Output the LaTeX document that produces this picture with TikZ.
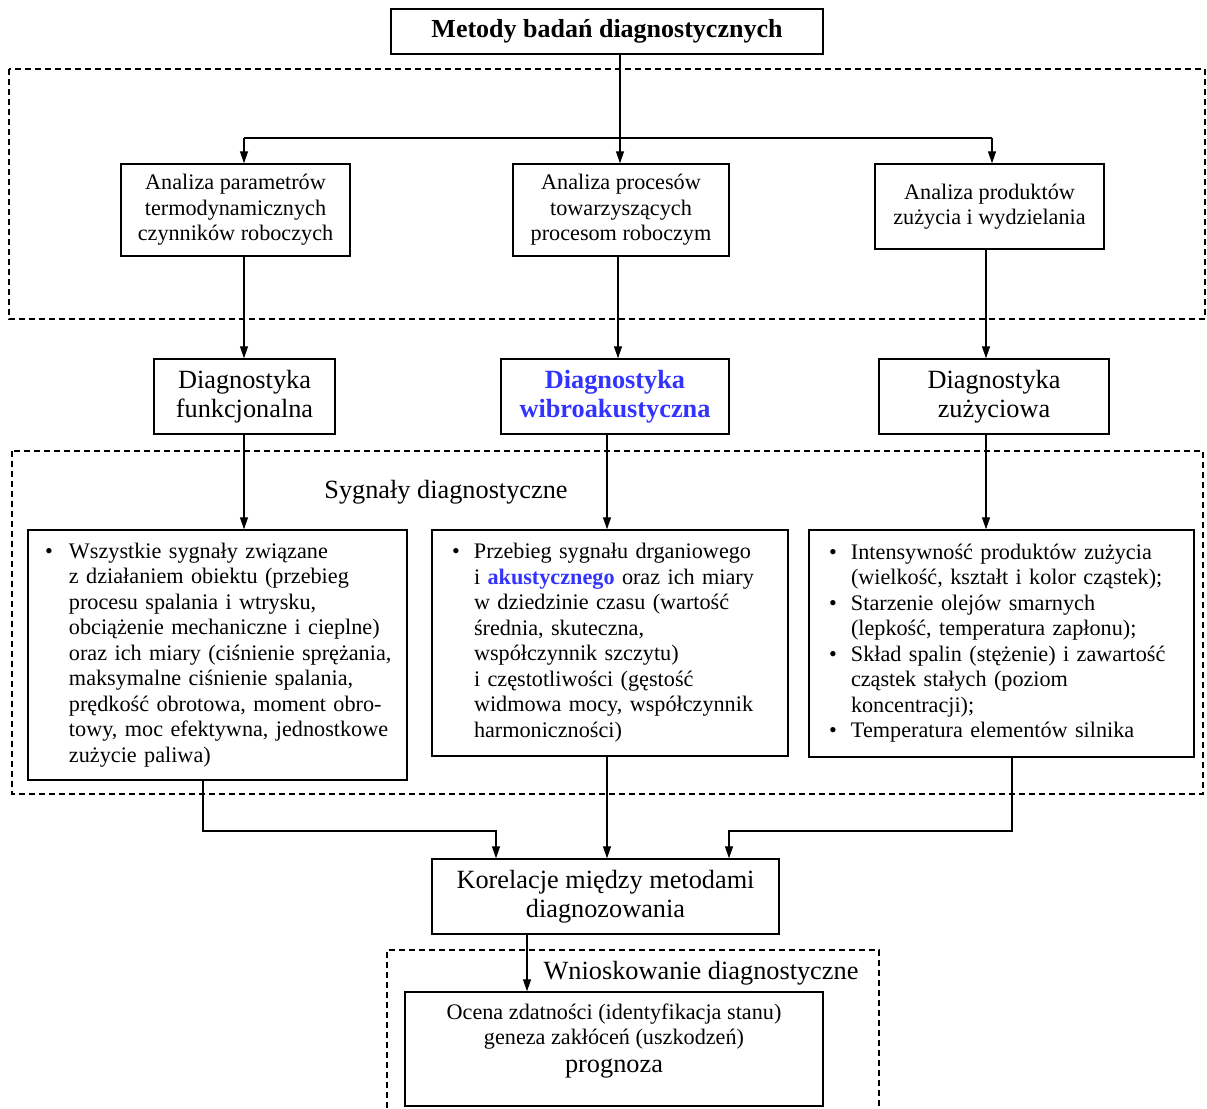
\documentclass[tikz,border=0pt]{standalone}
\usepackage{fontspec}
\setmainfont{Liberation Serif}
\usetikzlibrary{arrows.meta}
\definecolor{diagblue}{RGB}{51,51,255}
\newcommand{\fsz}[2]{\fontsize{#1}{#2}\selectfont}
\newcommand{\bl}{\textbullet}
\begin{document}
\begin{tikzpicture}[x=1pt,y=-1pt,
  box/.style={draw, line width=1.4pt, inner sep=0pt, align=center},
  arr/.style={line width=1.2pt, -{Triangle[length=12pt,width=8pt]}},
  ln/.style={line width=1.2pt},
  dbox/.style={line width=1.2pt, dash pattern=on 6pt off 4pt},
  small/.style={font=\fsz{22.2}{25.5}},
  big/.style={font=\fsz{26.3}{29.5}},
  listbox/.style={box, align=left, font=\fsz{22.2}{25.5}}
]
\useasboundingbox (0,0) rectangle (1207,1108);

% dashed frames
\draw[dbox] (9,69) rectangle (1205,319);
\draw[dbox] (12,451) rectangle (1203,794);
\draw[dbox] (387,1108) -- (387,950) -- (879,950) -- (879,1108);

% column coordinates
\coordinate (c1) at (244,0);
\coordinate (c2) at (620,0);
\coordinate (c2a) at (618,0);
\coordinate (c2b) at (607,0);
\coordinate (c3) at (992,0);
\coordinate (c3b) at (986,0);
\coordinate (jy) at (0,138);
\coordinate (my) at (0,831);
\coordinate (k1) at (496,0);
\coordinate (k3) at (729,0);
\coordinate (l1) at (203,0);
\coordinate (l3) at (1012,0);
\coordinate (ox) at (527,0);

% top
\node[box, minimum width=432pt, minimum height=45pt, font=\fsz{26}{30}\bfseries] (top) at (607,31.5) {Metody badań diagnostycznych};

% analysis boxes
\node[box, small, minimum width=229pt, minimum height=92pt] (A1) at (235.5,210) {Analiza parametrów\\termodynamicznych\\czynników roboczych};
\node[box, small, minimum width=216pt, minimum height=92pt] (A2) at (621,210) {Analiza procesów\\towarzyszących\\procesom roboczym};
\node[box, small, minimum width=229pt, minimum height=85pt] (A3) at (989.5,206.5) {Analiza produktów\\zużycia i wydzielania};

% diagnostics boxes
\node[box, big, minimum width=181pt, minimum height=75pt] (D1) at (244.5,396.5) {Diagnostyka\\funkcjonalna};
\node[box, minimum width=228pt, minimum height=75pt, text=diagblue, font=\fsz{26.3}{29.5}\bfseries] (D2) at (615,396.5) {Diagnostyka\\wibroakustyczna};
\node[box, big, minimum width=230pt, minimum height=75pt] (D3) at (994,396.5) {Diagnostyka\\zużyciowa};

\node[font=\fsz{26.3}{29.5}, inner sep=0pt] (syg) at (446,492) {Sygnały diagnostyczne};

% list boxes
\node[listbox, minimum width=379pt, minimum height=250pt, text width=345pt] (L1) at (217.5,655) {%
\begin{tabular}{@{}p{24pt}@{}l@{}}
\bl & Wszystkie sygnały związane\\
 & z działaniem obiektu (przebieg\\
 & procesu spalania i wtrysku,\\
 & obciążenie mechaniczne i cieplne)\\
 & oraz ich miary (ciśnienie sprężania,\\
 & maksymalne ciśnienie spalania,\\
 & prędkość obrotowa, moment obro-\\
 & towy, moc efektywna, jednostkowe\\
 & zużycie paliwa)
\end{tabular}};
\node[listbox, minimum width=356pt, minimum height=226pt, text width=316pt] (L2) at (610,643) {%
\begin{tabular}{@{}p{22pt}@{}l@{}}
\bl & Przebieg sygnału drganiowego\\
 & i \textcolor{diagblue}{\bfseries akustycznego} oraz ich miary\\
 & w dziedzinie czasu (wartość\\
 & średnia, skuteczna,\\
 & współczynnik szczytu)\\
 & i częstotliwości (gęstość\\
 & widmowa mocy, współczynnik\\
 & harmoniczności)
\end{tabular}};
\node[listbox, minimum width=385pt, minimum height=227pt, text width=345pt] (L3) at (1001.5,643.5) {%
\begin{tabular}{@{}p{22pt}@{}l@{}}
\bl & Intensywność produktów zużycia\\
 & (wielkość, kształt i kolor cząstek);\\
\bl & Starzenie olejów smarnych\\
 & (lepkość, temperatura zapłonu);\\
\bl & Skład spalin (stężenie) i zawartość\\
 & cząstek stałych (poziom\\
 & koncentracji);\\
\bl & Temperatura elementów silnika
\end{tabular}};

% correlation
\node[box, big, minimum width=347pt, minimum height=75pt] (K) at (605.5,896.5) {Korelacje między metodami\\diagnozowania};

\node[font=\fsz{26.3}{29.5}, inner sep=0pt] (wn) at (701,973) {Wnioskowanie diagnostyczne};

\node[box, minimum width=418pt, minimum height=114pt] (O) at (614,1049) {};
\node[align=center, inner sep=0pt, font=\fsz{22.2}{25}] (Ot) at (614,1041) {Ocena zdatności (identyfikacja stanu)\\geneza zakłóceń (uszkodzeń)\\[3pt]{\fsz{26.3}{29}prognoza}};

% connectors
\draw[arr] (top.south -| c2) -- (A2.north -| c2);
\draw[arr] (jy -| c1) -- (A1.north -| c1);
\draw[ln] (jy -| c1) -- (jy -| c3);
\draw[arr] (jy -| c3) -- (A3.north -| c3);

\draw[arr] (A1.south -| c1) -- (D1.north -| c1);
\draw[arr] (A2.south -| c2a) -- (D2.north -| c2a);
\draw[arr] (A3.south -| c3b) -- (D3.north -| c3b);

\draw[arr] (D1.south -| c1) -- (L1.north -| c1);
\draw[arr] (D2.south -| c2b) -- (L2.north -| c2b);
\draw[arr] (D3.south -| c3b) -- (L3.north -| c3b);

\draw[arr] (L1.south -| l1) -- (my -| l1) -- (my -| k1) -- (K.north -| k1);
\draw[arr] (L2.south -| c2b) -- (K.north -| c2b);
\draw[arr] (L3.south -| l3) -- (my -| l3) -- (my -| k3) -- (K.north -| k3);

\draw[arr] (K.south -| ox) -- (O.north -| ox);
\end{tikzpicture}
\end{document}
